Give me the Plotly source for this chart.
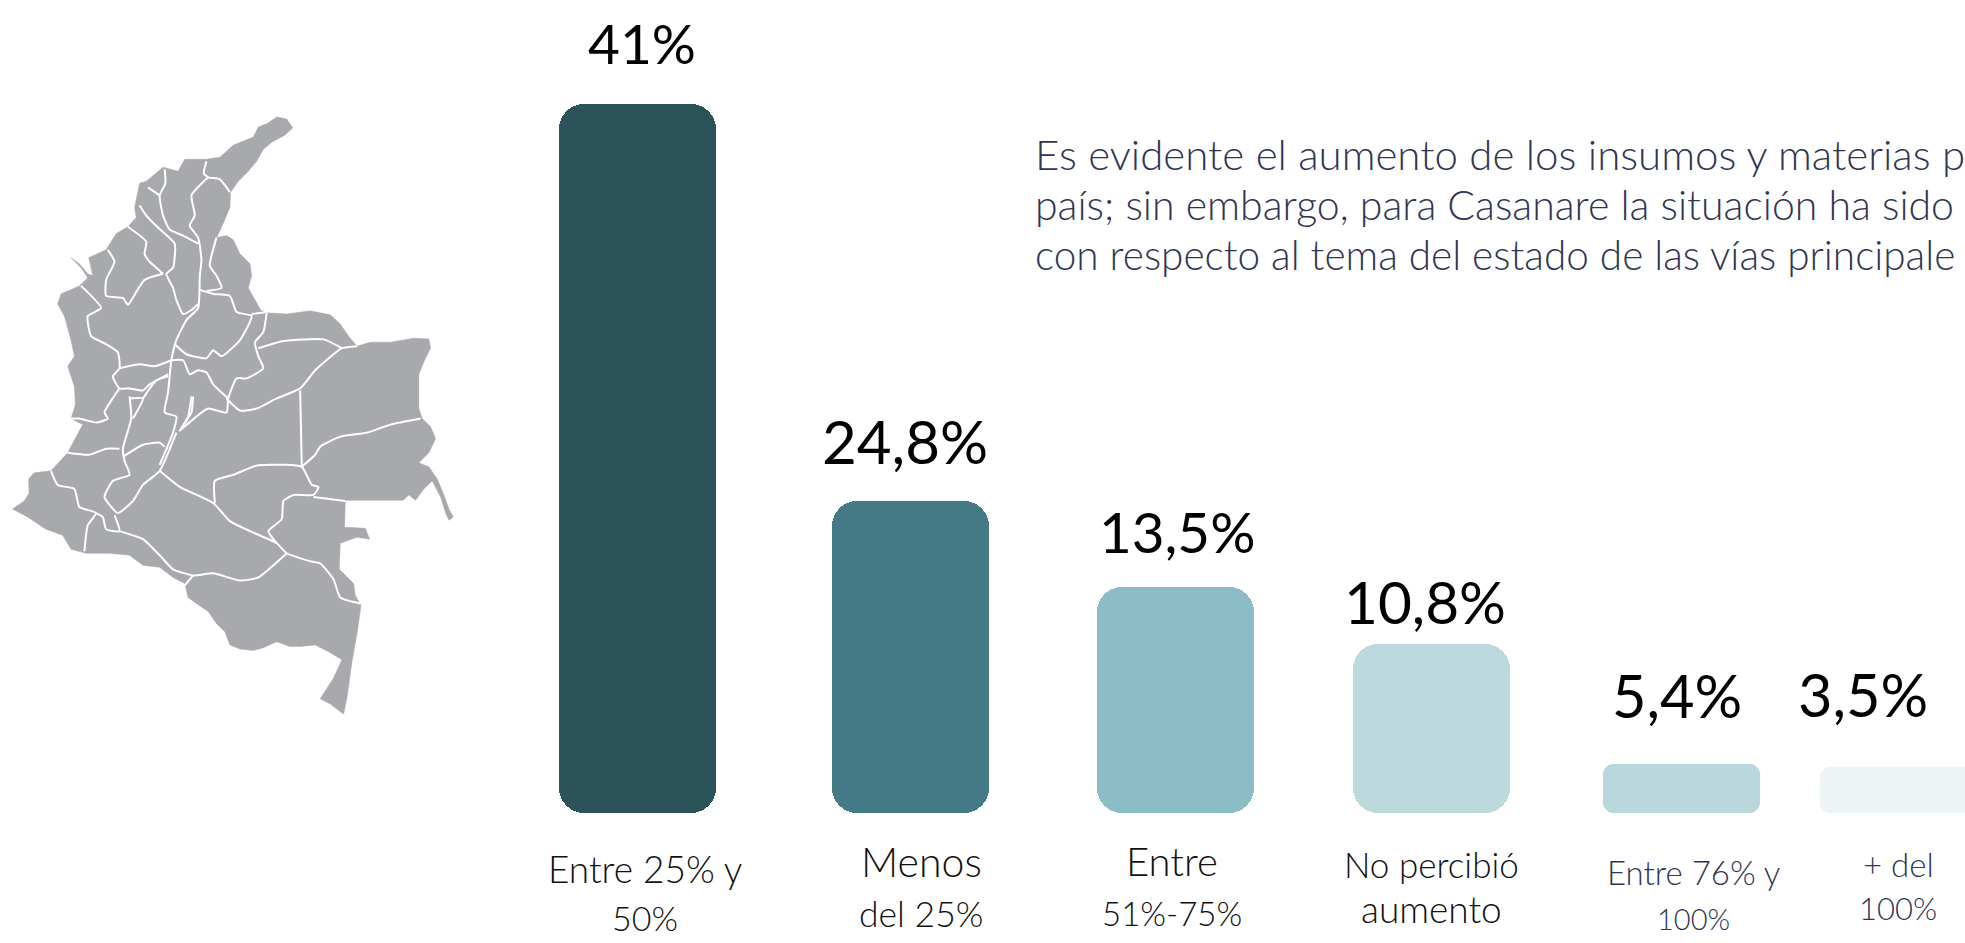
import plotly.graph_objects as go

# ---------- data ----------
categories = ["Entre 25% y<br>50%", "Menos<br>del 25%", "Entre<br>51%-75%",
              "No percibió<br>aumento", "Entre 76% y<br>100%", "+ del<br>100%"]
value_labels = ["41%", "24,8%", "13,5%", "10,8%", "5,4%", "3,5%"]
# bar lengths as drawn in the picture (the drawing is not proportional to its labels)
bar_lengths = [709, 312, 226.5, 169, 49, 46]
bar_centers = [637.5, 910.5, 1175, 1431, 1681.5, 1898]
bar_colors = ["#2C525A", "#437A85", "#8CBCC6", "#BCD9DD", "#B9D7DC", "#EDF4F6"]

paragraph = ["Es evidente el aumento de los insumos y materias p",
             "país; sin embargo, para Casanare la situación ha sido",
             "con respecto al tema del estado de las vías principale"]

map_outline = [(775,70),(800,62),(830,45),(860,50),(878,72),(855,90),(815,108),(790,125),(770,155),(745,180),(715,205),(692,232),(690,270),(670,310),(650,345),(680,340),(700,350),(720,385),(750,410),(755,440),(745,470),(765,500),(782,525),(800,532),(860,535),(930,527),(990,537),(1020,560),(1045,590),(1070,615),(1110,605),(1170,605),(1240,595),(1285,597),(1290,620),(1272,650),(1255,685),(1255,730),(1255,770),(1265,795),(1290,815),(1305,845),(1285,880),(1255,905),(1285,915),(1310,945),(1330,985),(1345,1020),(1358,1040),(1345,1048),(1335,1030),(1320,990),(1295,950),(1270,970),(1245,998),(1225,985),(1208,998),(1035,998),(1033,1065),(1095,1068),(1108,1095),(1070,1090),(1020,1105),(1017,1170),(1060,1205),(1065,1235),(1082,1260),(1070,1330),(1055,1400),(1040,1490),(1030,1530),(990,1505),(960,1492),(1000,1440),(1025,1395),(985,1375),(945,1358),(900,1362),(870,1362),(830,1350),(790,1365),(760,1372),(720,1368),(690,1358),(675,1325),(650,1305),(625,1275),(590,1255),(565,1240),(555,1205),(520,1190),(480,1165),(430,1160),(390,1135),(330,1130),(260,1130),(215,1120),(190,1085),(140,1070),(85,1040),(40,1020),(75,1000),(90,980),(88,945),(105,930),(155,925),(205,880),(240,825),(250,810),(215,795),(228,760),(225,715),(205,665),(225,640),(215,600),(195,540),(175,510),(185,485),(240,465),(265,445),(245,420),(215,395),(240,410),(265,435),(280,440),(268,395),(320,375),(350,335),(385,318),(410,295),(405,270),(420,210),(440,205),(490,170),(535,180),(555,150),(620,150),(660,145),(700,115),(760,95),(775,70)]

map_borders = [
 [(620,155),(612,185),(625,195),(660,200),(690,232)],
 [(625,195),(600,215),(575,240),(585,290),(570,315),(595,345),(605,400),(600,440),(595,520),(560,550),(530,600),(515,650),(505,730),(495,780),(530,790),(520,830),(480,910)],
 [(495,175),(497,210),(480,240),(490,290),(510,325),(550,340),(595,360)],
 [(445,220),(480,240)],
 [(420,265),(440,290),(475,320),(525,360),(520,420),(500,435),(520,470),(530,500),(550,535),(575,525),(595,510)],
 [(385,318),(440,355),(435,385),(450,405),(470,420),(490,435)],
 [(325,375),(345,405),(320,450),(320,490),(370,495),(385,512),(410,480),(435,450),(490,435)],
 [(245,465),(305,520),(265,540),(275,590),(320,610),(355,630),(360,670),(340,690),(360,720),(390,720),(430,725),(450,710),(505,685)],
 [(360,670),(420,660),(465,665),(515,650)],
 [(360,720),(315,780),(325,795),(290,805),(240,795),(215,795)],
 [(390,740),(395,795),(370,870),(375,900),(390,935),(340,950),(315,990),(355,1030),(400,1000),(430,960),(480,925),(530,830)],
 [(360,870),(320,870),(270,885),(205,880)],
 [(370,890),(430,860),(480,855),(495,865)],
 [(390,745),(430,745),(400,795)],
 [(430,745),(470,700),(505,690)],
 [(155,925),(175,960),(225,970),(240,1015),(290,1030),(265,1060),(255,1125)],
 [(290,1030),(310,1040),(320,1070),(360,1075),(345,1035)],
 [(360,1075),(430,1095),(480,1135),(520,1170),(580,1185),(640,1180),(720,1198),(775,1190),(860,1130)],
 [(480,925),(540,965),(640,1005),(690,1050),(750,1075),(830,1105),(860,1130),(930,1150),(960,1155),(1000,1195),(1020,1240),(1080,1255)],
 [(580,1185),(555,1210)],
 [(645,1005),(645,950),(700,935),(770,912),(850,910),(905,915),(935,960),(955,965),(940,985),(880,985),(850,1000),(845,1045),(805,1075),(830,1105)],
 [(940,990),(1035,1000)],
 [(900,725),(905,915)],
 [(905,915),(945,885),(960,865),(1020,840),(1100,830),(1170,810),(1260,795)],
 [(680,745),(720,775),(770,770),(830,745),(900,720),(945,675),(1025,620),(1070,615)],
 [(775,620),(850,602),(970,598),(1025,620)],
 [(800,532),(790,580),(765,605),(775,640),(790,670),(740,695),(710,695),(685,745),(680,780),(625,770),(590,790)],
 [(685,745),(640,710),(620,680),(595,675),(570,685),(550,650),(515,650)],
 [(525,610),(560,635),(620,645),(640,625),(665,640),(720,600),(755,540),(710,530),(690,490),(640,485),(600,475)],
 [(755,535),(800,530)],
 [(650,345),(630,415),(650,440),(665,470),(620,478)],
 [(575,740),(565,790),(540,825),(575,780),(580,740)],
 [(590,790),(540,825)],
]

# ---------- layout constants ----------
W, H = 1965, 943
BASE_Y = 813
BAR_W = 157
FONT = "Lato"
value_pos = [(641.5,43),(905,441),(1177,531),(1425,601),(1677,695),(1863,694)]
value_size = [55, 60, 56.5, 58.5, 59.5, 59.5]
label_pos = [(645,868,917),(921,861,913),(1171.5,861,913),(1431,864,908),(1693,872,918),(1898,864,908)]
label_size = [(37,34),(41,35.5),(40,33),(35,37),(33,29),(33,31)]
label_color = ["#111111","#111111","#111111","#111111","#2F3555","#2F3555"]
para_y = [154,204,254]
para_size = [42, 41, 40.5]
PARA_X = 1033

def mx(v): return 12.5 + (v - 40) / 2.99
def my(v): return 117 + (v - 45) / 2.487

fig = go.Figure()

# an explicit base makes Plotly round both ends of a bar
for idx, rad in [([0,1,2,3], 25), ([4,5], 10)]:
    fig.add_trace(go.Bar(
        x=[bar_centers[i] for i in idx],
        y=[bar_lengths[i] for i in idx],
        base=[0] * len(idx),
        width=BAR_W,
        marker=dict(color=[bar_colors[i] for i in idx], line_width=0, cornerradius=rad),
        hoverinfo="skip", showlegend=False, xaxis="x", yaxis="y"))

fig.add_trace(go.Scatter(
    x=[mx(p[0]) for p in map_outline], y=[my(p[1]) for p in map_outline],
    mode="lines", fill="toself", fillcolor="#A7A9AC", line=dict(color="#A7A9AC", width=0.5),
    hoverinfo="skip", showlegend=False, xaxis="x", yaxis="y2"))
for b in map_borders:
    fig.add_trace(go.Scatter(
        x=[mx(p[0]) for p in b], y=[my(p[1]) for p in b],
        mode="lines", line=dict(color="white", width=2, shape="spline", smoothing=0.5),
        hoverinfo="skip", showlegend=False, xaxis="x", yaxis="y2"))

ann = []
def text(x, y, s, size, color, anchor="center", weight=300):
    ann.append(dict(x=x, y=y, xref="x", yref="y2", text=s, showarrow=False, xanchor=anchor,
                    yanchor="middle", font=dict(family=FONT, size=size, color=color, weight=weight)))

for (x, y), s, sz in zip(value_pos, value_labels, value_size):
    text(x, y, s, sz, "#000000", weight=400)
for (x, y1, y2), s, (s1, s2), c in zip(label_pos, categories, label_size, label_color):
    a, b = s.split("<br>")
    text(x, y1, a, s1, c)
    text(x, y2, b, s2, c)
for y, s, sz in zip(para_y, paragraph, para_size):
    text(PARA_X, y, s, sz, "#2F3555", anchor="left")

fig.update_layout(
    width=W, height=H, margin=dict(l=0, r=0, t=0, b=0), autosize=False,
    paper_bgcolor="white", plot_bgcolor="white", barmode="overlay", bargap=0,
    annotations=ann,
    xaxis=dict(range=[0, W], visible=False, fixedrange=True),
    yaxis=dict(range=[BASE_Y - H, BASE_Y], visible=False, fixedrange=True),
    yaxis2=dict(range=[H, 0], visible=False, overlaying="y", fixedrange=True),
)
fig.write_html("out.html", config=dict(displayModeBar=False),
               post_script="document.body.style.margin='0';document.documentElement.style.overflow='hidden';")
